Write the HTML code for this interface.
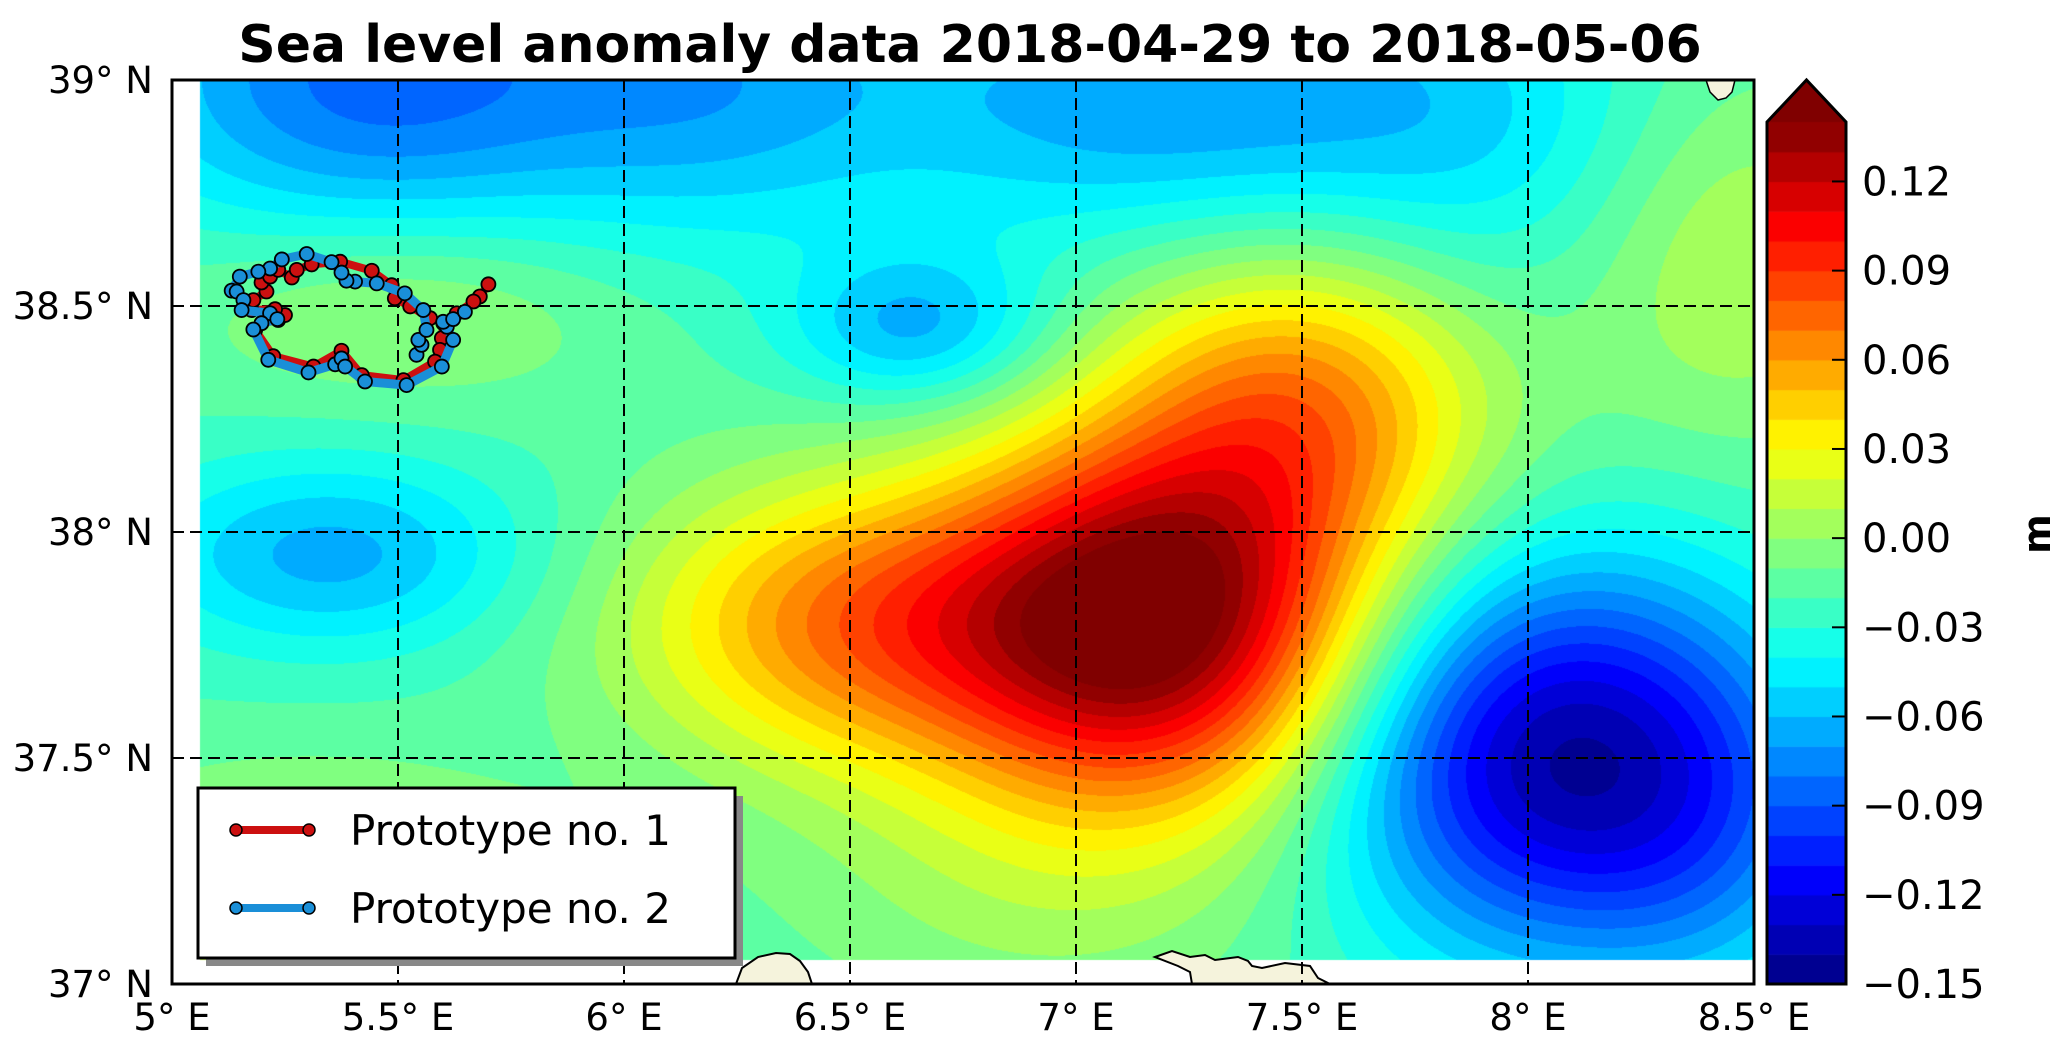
<!DOCTYPE html>
<html><head><meta charset="utf-8"><style>
body{margin:0;background:#fff;width:2067px;height:1054px;overflow:hidden;position:relative;font-family:"DejaVu Sans","Liberation Sans",sans-serif}
#field{position:absolute;left:0;top:0}
#ov{position:absolute;left:0;top:0}
</style></head><body>
<canvas id="field" width="2067" height="1054"></canvas>
<svg id="ov" width="2067" height="1054" font-family="DejaVu Sans, Liberation Sans, sans-serif"></svg>
<script>
// ---- data ----
const levels=[-0.15,-0.14,-0.13,-0.12,-0.11,-0.10,-0.09,-0.08,-0.07,-0.06,-0.05,-0.04,-0.03,-0.02,-0.01,0.00,0.01,0.02,0.03,0.04,0.05,0.06,0.07,0.08,0.09,0.10,0.11,0.12,0.13,0.14];
const cbTicks=[-0.15,-0.12,-0.09,-0.06,-0.03,0.00,0.03,0.06,0.09,0.12];
const lonTicks=[5,5.5,6,6.5,7,7.5,8,8.5];
const latTicks=[37,37.5,38,38.5,39];
const baseLevel=-0.019;
const blobLon=[7.17,6.5,7.5,6.9,8.07,5.45,6.2,7.2,7.9,6.65,5.35,5.5,5.3,8.45,8.4];
const blobLat=[37.8,37.8,38.28,37.25,37.5,39.0,39.0,38.95,38.85,38.45,37.95,38.5,37.15,38.6,37.3];
const blobAmp=[0.165,0.08,0.08,0.02,-0.12,-0.065,-0.035,-0.05,-0.02,-0.045,-0.045,0.025,0.045,0.03,-0.02];
const blobSx=[0.33,0.35,0.3,0.4,0.35,0.4,0.3,0.5,0.3,0.2,0.3,0.35,0.35,0.25,0.22];
const blobSy=[0.28,0.22,0.25,0.25,0.3,0.25,0.25,0.22,0.3,0.12,0.15,0.15,0.2,0.3,0.25];
const p1Lon=[5.700,5.681,5.667,5.630,5.600,5.597,5.593,5.582,5.512,5.420,5.375,5.313,5.224,5.184,5.198,5.235,5.250,5.228,5.176,5.180,5.209,5.198,5.217,5.235,5.265,5.276,5.309,5.372,5.442,5.486,5.493,5.527,5.571];
const p1Lat=[38.548,38.521,38.510,38.484,38.462,38.429,38.403,38.377,38.336,38.347,38.401,38.366,38.389,38.447,38.462,38.469,38.480,38.493,38.491,38.513,38.532,38.552,38.565,38.580,38.563,38.580,38.592,38.598,38.578,38.546,38.517,38.499,38.473];
const p2Lon=[5.541,5.552,5.545,5.563,5.556,5.515,5.453,5.405,5.386,5.375,5.353,5.298,5.243,5.217,5.191,5.150,5.132,5.143,5.158,5.154,5.217,5.233,5.198,5.180,5.213,5.302,5.361,5.375,5.383,5.427,5.519,5.597,5.622,5.608,5.600,5.622,5.648];
const p2Lat=[38.392,38.414,38.425,38.447,38.491,38.528,38.550,38.554,38.556,38.574,38.597,38.615,38.603,38.583,38.576,38.565,38.534,38.532,38.513,38.491,38.484,38.471,38.462,38.448,38.381,38.353,38.371,38.384,38.366,38.333,38.325,38.366,38.425,38.454,38.465,38.471,38.487];

// ---- geometry ----
const X0=172,X1=1754,Y0=80,Y1=984,PPD=452;
const xS=lon=>X0+(lon-5)*PPD, yS=lat=>Y0+(39-lat)*PPD;
const DX0=200,DY1=960;
function jet(x){const c=v=>Math.max(0,Math.min(1,v));return [c(Math.min(4*x-1.5,-4*x+4.5)),c(Math.min(4*x-0.5,-4*x+3.5)),c(Math.min(4*x+0.5,-4*x+2.5))].map(v=>Math.round(v*255));}
const nb=levels.length-1;
const bandCol=[];for(let i=0;i<nb;i++)bandCol.push(jet((i+0.5)/nb));
const extCol=jet(1);
function val(lon,lat){let v=baseLevel;for(let k=0;k<blobLon.length;k++){const dx=(lon-blobLon[k])/blobSx[k],dy=(lat-blobLat[k])/blobSy[k];v+=blobAmp[k]*Math.exp(-0.5*(dx*dx+dy*dy));}return v;}
function colFor(v){if(v>=levels[nb])return extCol;if(v<levels[0])return bandCol[0];const i=Math.floor((v-levels[0])/0.01+1e-9);return bandCol[Math.min(nb-1,Math.max(0,i))];}
const cv=document.getElementById('field'),ctx=cv.getContext('2d');
const W=X1-DX0,H=DY1-Y0;const img=ctx.createImageData(W,H);
for(let y=0;y<H;y++){const lat=39-(y+0.5)/PPD;for(let x=0;x<W;x++){const lon=5+(DX0-X0+x+0.5)/PPD;const c=colFor(val(lon,lat));const o=(y*W+x)*4;img.data[o]=c[0];img.data[o+1]=c[1];img.data[o+2]=c[2];img.data[o+3]=255;}}
ctx.putImageData(img,DX0,Y0);
const CB0=1767,CB1=1846,CBT=122,CBB=984;const bh=(CBB-CBT)/nb;
for(let i=0;i<nb;i++){const c=bandCol[i];ctx.fillStyle=`rgb(${c})`;ctx.fillRect(CB0,CBB-(i+1)*bh,CB1-CB0,bh+0.6);}
ctx.fillStyle=`rgb(${extCol})`;ctx.beginPath();ctx.moveTo(CB0,CBT);ctx.lineTo((CB0+CB1)/2,80);ctx.lineTo(CB1,CBT);ctx.closePath();ctx.fill();

// ---- SVG overlay ----
const NS='http://www.w3.org/2000/svg',svg=document.getElementById('ov');
function mk(tag,at,parent){const e=document.createElementNS(NS,tag);for(const k in at)e.setAttribute(k,at[k]);(parent||svg).appendChild(e);return e;}
const land1=mk('path',{d:'M736,984 L742,968 L758,957 L776,953 L790,954 L800,961 L808,972 L812,984 Z',fill:'#f5f3dc',stroke:'#000','stroke-width':2});


const land2=mk('path',{d:'M1155,957 L1172,951 L1190,957 L1205,955 L1215,960 L1238,957 L1248,961 L1252,966 L1262,968 L1285,963 L1310,966 L1318,978 L1330,984 L1192,984 L1190,972 L1178,966 Z',fill:'#f5f3dc',stroke:'#000','stroke-width':2});


const land3=mk('path',{d:'M1706,80 L1710,92 L1718,100 L1726,98 L1732,92 L1735,80 Z',fill:'#f5f3dc',stroke:'#000','stroke-width':1.5});


lonTicks.forEach(l=>{if(l>5&&l<8.5){const g=mk('line',{x1:xS(l),x2:xS(l),y1:Y0,y2:Y1,stroke:'#000','stroke-width':2,'stroke-dasharray':'12,6'});

}});
latTicks.forEach(l=>{if(l>37&&l<39){const g=mk('line',{x1:X0,x2:X1,y1:yS(l),y2:yS(l),stroke:'#000','stroke-width':2,'stroke-dasharray':'12,6'});

}});
function track(lons,lats,col,w,name){const pts=lons.map((l,i)=>xS(l)+','+yS(lats[i])).join(' ');
const pl=mk('polyline',{points:pts,fill:'none',stroke:col,'stroke-width':w,'stroke-linejoin':'round'});


lons.forEach((l,i)=>{const c=mk('circle',{cx:xS(l),cy:yS(lats[i]),r:7,fill:col,stroke:'#000','stroke-width':1.8});

});}
track(p1Lon,p1Lat,'#cc1010',8,'prototype-1');
track(p2Lon,p2Lat,'#1a8fd8',9,'prototype-2');
const fr=mk('rect',{x:X0,y:Y0,width:X1-X0,height:Y1-Y0,fill:'none',stroke:'#000','stroke-width':3});


lonTicks.forEach(l=>{const t=mk('text',{x:xS(l),y:1030,'font-size':37,'text-anchor':'middle'});t.textContent=(l%1===0?l:l.toFixed(1))+'° E';

});
latTicks.forEach(l=>{const t=mk('text',{x:153,y:yS(l)+13,'font-size':37,'text-anchor':'end'});t.textContent=(l%1===0?l:l.toFixed(1))+'° N';

});
const ti=mk('text',{x:970,y:62,'font-size':52,'font-weight':'bold','text-anchor':'middle'});ti.textContent='Sea level anomaly data  2018-04-29 to 2018-05-06';


const cbo=mk('path',{d:`M${CB0},${CBB} L${CB0},${CBT} L${(CB0+CB1)/2},80 L${CB1},${CBT} L${CB1},${CBB} Z`,fill:'none',stroke:'#000','stroke-width':3});


cbTicks.forEach(v=>{const y=CBB-(v-levels[0])/0.01*bh;mk('line',{x1:CB1-14,x2:CB1,y1:y,y2:y,stroke:'#000','stroke-width':2});
const t=mk('text',{x:1862,y:y+14,'font-size':40});t.textContent=(v<0?'\u2212':'')+Math.abs(v).toFixed(2);

});
const ml=mk('text',{x:2050,y:534,'font-size':38,'font-weight':'bold','text-anchor':'middle',transform:'rotate(-90 2050 534)'});ml.textContent='m';


const lg=mk('g',{});


mk('rect',{x:206,y:796,width:537,height:170,fill:'#888'},lg);
mk('rect',{x:198,y:788,width:537,height:170,fill:'#fff',stroke:'#000','stroke-width':3},lg);
[['Prototype no. 1','#cc1010',830],['Prototype no. 2','#1a8fd8',908]].forEach(([lab,col,y])=>{
const e=mk('g',{},lg);


mk('line',{x1:236,x2:309,y1:y,y2:y,stroke:col,'stroke-width':8},e);
mk('circle',{cx:236,cy:y,r:6,fill:col,stroke:'#000','stroke-width':1.5},e);
mk('circle',{cx:309,cy:y,r:6,fill:col,stroke:'#000','stroke-width':1.5},e);
const t=mk('text',{x:350,y:y+15,'font-size':42},e);t.textContent=lab;});
</script>
</body></html>
